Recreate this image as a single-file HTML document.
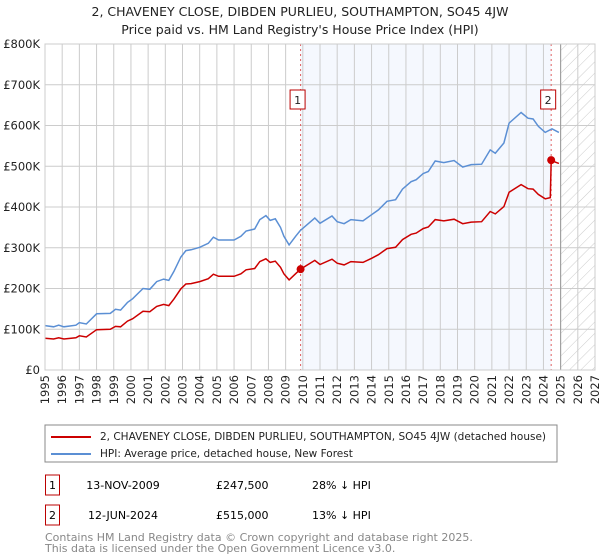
<!DOCTYPE html>
<html><head><meta charset="utf-8"><style>
body{margin:0;background:#fff;font-family:"DejaVu Sans","Liberation Sans",sans-serif;}
#wrap{position:relative;width:600px;height:560px;overflow:hidden}
</style></head><body>
<div id="wrap">
<svg id="chart" width="600" height="560" viewBox="0 0 600 560">
<defs><pattern id="hatch" patternUnits="userSpaceOnUse" width="8" height="8" patternTransform="rotate(45)"><line x1="0" y1="0" x2="0" y2="8" stroke="#ccc" stroke-width="1"/></pattern></defs>
<text x="300" y="16" text-anchor="middle" font-size="12.5" fill="#222">2, CHAVENEY CLOSE, DIBDEN PURLIEU, SOUTHAMPTON, SO45 4JW</text>
<text x="300" y="34" text-anchor="middle" font-size="12.5" fill="#222">Price paid vs. HM Land Registry's House Price Index (HPI)</text>
<g id="plot"></g>
<rect x="45" y="425" width="512" height="37" fill="#fff" stroke="#888"/>
<line x1="51" y1="437" x2="91" y2="437" stroke="#cc0000" stroke-width="2"/>
<text x="100" y="440" font-size="10.5" fill="#222">2, CHAVENEY CLOSE, DIBDEN PURLIEU, SOUTHAMPTON, SO45 4JW (detached house)</text>
<line x1="51" y1="454" x2="91" y2="454" stroke="#5b8fd4" stroke-width="2"/>
<text x="100" y="457" font-size="10.5" fill="#222">HPI: Average price, detached house, New Forest</text>
<g>
<rect x="45.5" y="475" width="14" height="20" fill="#fff" stroke="#b00"/>
<text x="52.5" y="489" text-anchor="middle" font-size="11">1</text>
<text x="123" y="489" text-anchor="middle" font-size="11">13-NOV-2009</text>
<text x="216" y="489" font-size="11">£247,500</text>
<text x="312" y="489" font-size="11">28% ↓ HPI</text></g>
<g>
<rect x="45.5" y="505" width="14" height="20" fill="#fff" stroke="#b00"/>
<text x="52.5" y="519" text-anchor="middle" font-size="11">2</text>
<text x="123" y="519" text-anchor="middle" font-size="11">12-JUN-2024</text>
<text x="216" y="519" font-size="11">£515,000</text>
<text x="312" y="519" font-size="11">13% ↓ HPI</text></g>
<text x="45" y="541" font-size="11" fill="#888">Contains HM Land Registry data © Crown copyright and database right 2025.</text>
<text x="45" y="552" font-size="11" fill="#888">This data is licensed under the Open Government Licence v3.0.</text>
</svg></div>
<script>
const hpiYears=[1995.0,1995.5,1995.8,1996.1,1996.8,1997.0,1997.4,1998.0,1998.8,1999.1,1999.4,1999.8,2000.1,2000.7,2001.1,2001.5,2001.9,2002.2,2002.5,2002.9,2003.2,2003.5,2004.0,2004.5,2004.8,2005.1,2006.0,2006.4,2006.7,2007.2,2007.5,2007.85,2008.1,2008.4,2008.7,2008.9,2009.2,2009.6,2009.85,2010.7,2011.0,2011.7,2012.0,2012.4,2012.8,2013.5,2014.0,2014.4,2014.9,2015.4,2015.8,2016.3,2016.6,2017.0,2017.3,2017.7,2018.2,2018.8,2019.3,2019.8,2020.4,2020.9,2021.2,2021.7,2022.0,2022.7,2023.1,2023.4,2023.7,2024.1,2024.5,2024.9];
const hpiValues=[109,106,110,106,110,116,113,138,139,149,147,166,175,200,198,217,223,220,242,277,293,295,301,311,326,319,319,328,341,346,369,379,367,371,350,328,307,329,342,373,360,378,364,359,369,366,381,393,414,418,444,462,467,482,487,513,509,514,498,504,505,540,532,557,606,632,618,616,598,583,592,583];
const priceYears=[1995.0,1995.5,1995.8,1996.1,1996.8,1997.0,1997.4,1998.0,1998.8,1999.1,1999.4,1999.8,2000.1,2000.7,2001.1,2001.5,2001.9,2002.2,2002.5,2002.9,2003.2,2003.5,2004.0,2004.5,2004.8,2005.1,2006.0,2006.4,2006.7,2007.2,2007.5,2007.85,2008.1,2008.4,2008.7,2008.9,2009.2,2009.6,2009.87,2010.7,2011.0,2011.7,2012.0,2012.4,2012.8,2013.5,2014.0,2014.4,2014.9,2015.4,2015.8,2016.3,2016.6,2017.0,2017.3,2017.7,2018.2,2018.8,2019.3,2019.8,2020.4,2020.9,2021.2,2021.7,2022.0,2022.7,2023.1,2023.4,2023.7,2024.1,2024.4,2024.45,2024.7,2024.9];
const priceValues=[78,76,79,76,79,84,81,99,100,107,106,120,126,144,143,156,161,158,174,199,211,212,217,224,235,230,230,236,246,249,266,273,264,267,252,236,221,237,247.5,269,259,272,262,258,266,264,274,283,298,301,320,333,336,347,351,369,366,370,359,363,364,389,383,401,436,455,445,444,431,420,423,515,510,507];
const saleYears=[2009.87,2024.45];
const saleValues=[247.5,515];
const saleLabels=["1","2"];
const yTicks=[0,100,200,300,400,500,600,700,800];
const yTickLabels=["£0","£100K","£200K","£300K","£400K","£500K","£600K","£700K","£800K"];
const xTicks=[1995,1996,1997,1998,1999,2000,2001,2002,2003,2004,2005,2006,2007,2008,2009,2010,2011,2012,2013,2014,2015,2016,2017,2018,2019,2020,2021,2022,2023,2024,2025,2026,2027];
const forecastStart=2025.0;

const L=45,R=595,T=44,B=370,x0=1995,x1=2027,vmax=800;
const X=y=>L+(y-x0)/(x1-x0)*(R-L);
const Y=v=>B-v/vmax*(B-T);
const NS="http://www.w3.org/2000/svg";
const plot=document.getElementById('plot');
function mk(tag,attrs,parent){const e=document.createElementNS(NS,tag);for(const k in attrs)e.setAttribute(k,attrs[k]);(parent||plot).appendChild(e);return e;}
let e=mk('rect',{x:X(saleYears[0]),y:T,width:X(saleYears[1])-X(saleYears[0]),height:B-T,fill:'#eef3fd',opacity:0.6});


e=mk('rect',{x:X(forecastStart),y:T,width:R-X(forecastStart),height:B-T,fill:'url(#hatch)'});


xTicks.forEach((t,i)=>{
 e=mk('line',{x1:X(t),x2:X(t),y1:T,y2:B,stroke:'#ccc','stroke-width':1});
 
 
 e=mk('text',{x:0,y:0,'font-size':11.5,fill:'#222','text-anchor':'end',transform:`translate(${X(t)+4},${B+5}) rotate(-90)`});
 e.textContent=t;
 
 
});
yTicks.forEach((t,i)=>{
 e=mk('line',{x1:L,x2:R,y1:Y(t),y2:Y(t),stroke:'#ccc','stroke-width':1});
 
 
 e=mk('text',{x:L-5,y:Y(t)+4,'font-size':11.5,fill:'#222','text-anchor':'end'});
 e.textContent=yTickLabels[i];
 
 
});
e=mk('line',{x1:X(forecastStart),x2:X(forecastStart),y1:T,y2:B,stroke:'#999','stroke-width':1});


saleYears.forEach((s,i)=>{
 e=mk('line',{x1:X(s),x2:X(s),y1:T,y2:B,stroke:'#e06060','stroke-width':1,'stroke-dasharray':'2,3'});
 
 
});
function pts(xs,vs){return xs.map((y,i)=>X(y).toFixed(1)+','+Y(vs[i]).toFixed(1)).join(' ');}
e=mk('polyline',{points:pts(hpiYears,hpiValues),fill:'none',stroke:'#5b8fd4','stroke-width':1.5});


e=mk('polyline',{points:pts(priceYears,priceValues),fill:'none',stroke:'#cc0000','stroke-width':1.5});


saleYears.forEach((s,i)=>{
 e=mk('circle',{cx:X(s),cy:Y(saleValues[i]),r:4,fill:'#cc0000'});
 
 
 e=mk('rect',{x:X(s)-10.5,y:90,width:15,height:19,fill:'#fff',stroke:'#b00'});
 
 
 e=mk('text',{x:X(s)-3,y:104,'font-size':11,'text-anchor':'middle',fill:'#222'});
 e.textContent=saleLabels[i];
 
 
});
e=mk('rect',{x:L,y:T,width:R-L,height:B-T,fill:'none',stroke:'#ccc'});


</script>
</body></html>
